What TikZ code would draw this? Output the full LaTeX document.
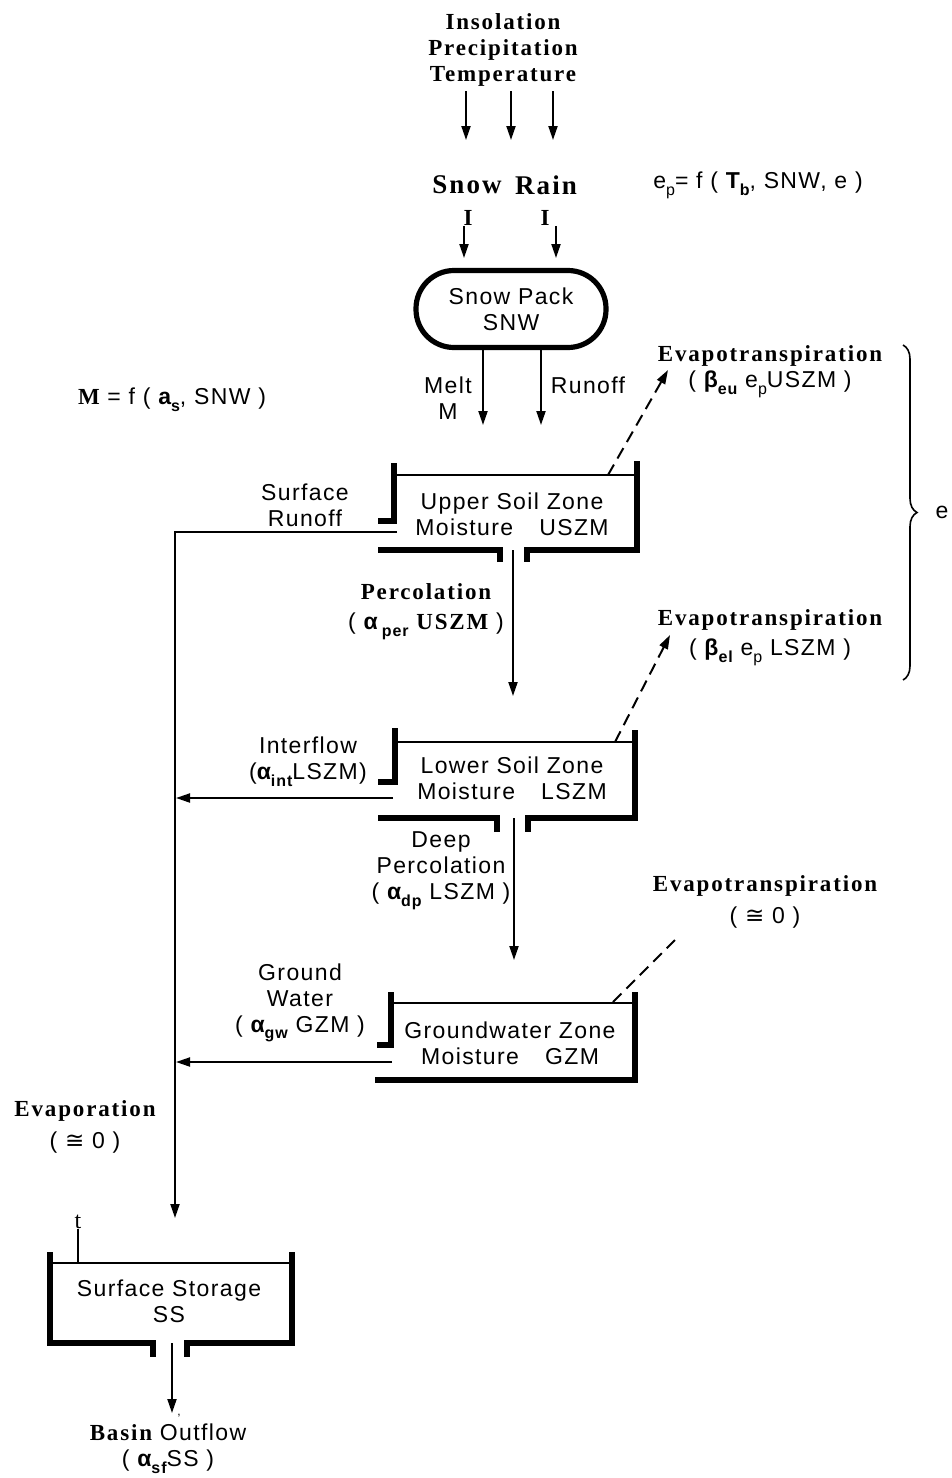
\documentclass[tikz,border=0pt]{standalone}
\usepackage{fontspec}
\setmainfont{Liberation Sans}[LetterSpace=6]
\newfontfamily\bser{Liberation Serif}[LetterSpace=8]
\newfontfamily\symf{DejaVu Sans}
\usetikzlibrary{arrows.meta,decorations.pathreplacing}
\newcommand{\lowsub}[1]{\raisebox{-0.55ex}{\fontsize{8}{8}\selectfont #1}}
\newcommand{\hdfont}{\bser\bfseries\fontsize{11.5}{13}\selectfont}
\newcommand{\approxzero}{( {\symf ≅} 0 )}

\begin{document}
\begin{tikzpicture}[x=0.5pt, y=-0.5pt,
		every node/.style={inner sep=0pt, align=center, font=\fontsize{11.5}{13}\selectfont},
		boldlbl/.style={font=\hdfont},
		flow/.style={line width=1pt, -{Triangle[length=7pt,width=4.5pt]}},
		etflow/.style={flow, dash pattern=on 6pt off 3.5pt},
		wall/.style={line width=2.6pt, line join=miter},
		rim/.style={line width=1pt}]
	\useasboundingbox (0,0) rectangle (952,1478);

	% inputs
	\node[boldlbl, outer sep=2.5pt] (inputs) at (503,50) {Insolation\\Precipitation\\Temperature};
	\foreach \x in {466,511,553}
		\draw[flow] (\x,0 |- inputs.south) -- (\x,140);
	\node (snow) at (467,185) {\bser\bfseries\fontsize{13.5}{15}\selectfont Snow};
	\node (rain) at (546,185) {\bser\bfseries\fontsize{13.5}{15}\selectfont Rain};
	\node (ep) at (758,185) {e\lowsub{p}= f ( {\bfseries T\lowsub{b}}, SNW, e )};
	\node (isnow) at (468,218) {\hdfont I};
	\node (irain) at (545,218) {\hdfont I};
	\draw[flow] (464,0 |- isnow.south) -- (464,258);
	\draw[flow] (556,0 |- irain.south) -- (556,258);

	% snow pack
	\node[draw, line width=2.6pt, rounded corners=19pt, minimum width=95pt, minimum height=38.5pt] (pack) at (511,309) {Snow Pack\\SNW};
	\draw[flow] (483,0 |- pack.south) -- (483,425);
	\draw[flow] (541,0 |- pack.south) -- (541,425);
	\node (melt) at (448,398) {Melt\\M};
	\node (runoff) at (588,385) {Runoff};
	\node (meltfn) at (172,400) {{\hdfont M} = f ( {\bfseries a\lowsub{s}}, SNW )};

	% upper soil zone
	\draw[wall] (378,521) -- (394,521) -- (394,463);
	\draw[rim] (394,475) -- (637,475);
	\draw[wall] (637,461) -- (637,550) -- (527,550) -- (527,562);
	\draw[wall] (500,562) -- (500,550) -- (378,550);
	\node (uszm) at (512,514) {Upper Soil Zone\\Moisture\hspace{0.8em} USZM};
	\node (surf) at (305,505) {Surface\\Runoff};
	\draw[flow] (397,532) -- (175,532) -- (175,1218);
	\node (perc) at (426,612) {{\hdfont Percolation}\\[2pt]( {\bfseries α\hspace{2pt}\lowsub{per}} {\hdfont USZM} )};
	\draw[flow] (513,550) -- (513,696);
	\node (etu) at (770,372) {{\hdfont Evapotranspiration}\\( {\bfseries β\lowsub{eu}} e\lowsub{p}USZM )};
	\draw[etflow] (608,475) -- (668,370);

	% lower soil zone
	\draw[wall] (378,782) -- (395,782) -- (395,728);
	\draw[rim] (395,742) -- (635,742);
	\draw[wall] (635,730) -- (635,818) -- (528,818) -- (528,832);
	\draw[wall] (497,832) -- (497,818) -- (378,818);
	\node (lszm) at (512,778) {Lower Soil Zone\\Moisture\hspace{0.8em} LSZM};
	\node (etl) at (770,638) {{\hdfont Evapotranspiration}\\[2pt]( {\bfseries β\lowsub{el}} e\lowsub{p} LSZM )};
	\draw[etflow] (615,742) -- (670,635);
	\node (inter) at (308,762) {Interflow\\({\bfseries α\lowsub{int}}LSZM)};
	\draw[flow] (393,798) -- (176,798);
	\node (deep) at (441,871) {Deep\\Percolation\\( {\bfseries α\lowsub{dp}} LSZM )};
	\draw[flow] (514,818) -- (514,960);

	% e brace
	\draw[decorate, decoration={brace, amplitude=7pt}, line width=0.8pt] (903,345) -- (903,680);
	\node (etot) at (942,512) {e};

	% groundwater zone
	\draw[wall] (377,1045) -- (391,1045) -- (391,992);
	\draw[rim] (391,1003) -- (635,1003);
	\draw[wall] (635,992) -- (635,1080) -- (375,1080);
	\node (gzm) at (510,1043) {Groundwater Zone\\Moisture\hspace{0.8em} GZM};
	\node (etg) at (765,902) {{\hdfont Evapotranspiration}\\[3pt]\approxzero};
	\draw[line width=1pt, dash pattern=on 6pt off 3.5pt] (613,1002) -- (675,940);
	\node (gw) at (300,1003) {Ground\\Water\\( {\bfseries α\lowsub{gw}} GZM )};
	\draw[flow] (392,1062) -- (176,1062);

	% surface storage
	\node (evapor) at (85,1127) {{\hdfont Evaporation}\\[3pt]\approxzero};
	\node (tmark) at (78,1222) {\bser\fontsize{12}{12}\selectfont t};
	\draw[line width=1pt] (tmark.south) -- (78,1263);
	\draw[wall] (50,1252) -- (50,1343) -- (153,1343) -- (153,1357);
	\draw[rim] (50,1263) -- (292,1263);
	\draw[wall] (292,1252) -- (292,1343) -- (187,1343) -- (187,1357);
	\node (ss) at (169,1301) {Surface Storage\\SS};
	\draw[flow] (172,1343) -- (172,1413);
	\node (comma) at (179,1416) {\fontsize{6}{6}\selectfont ,};
	\node (basin) at (168,1449) {{\hdfont Basin} Outflow\\( {\bfseries α\lowsub{sf}}SS )};
\end{tikzpicture}
\end{document}
